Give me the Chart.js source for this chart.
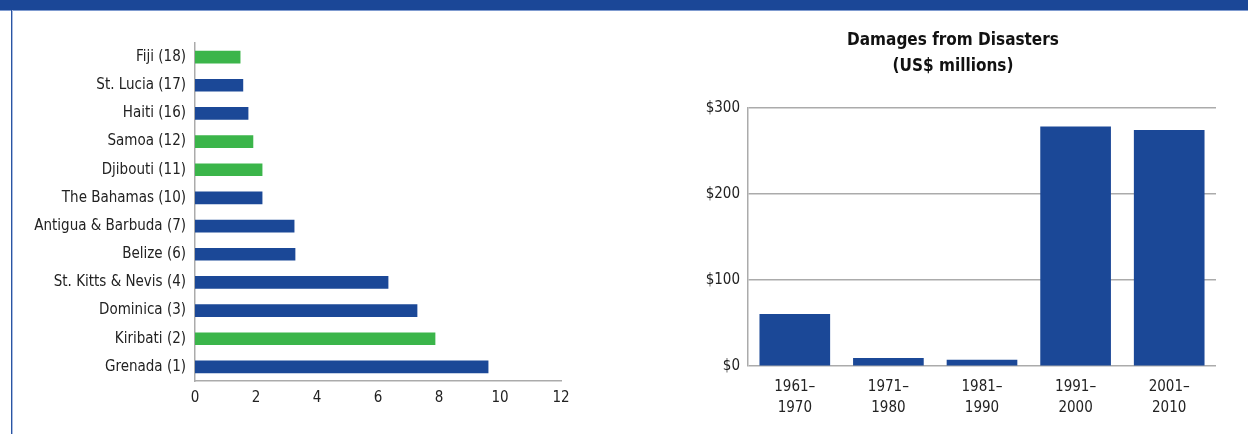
<!DOCTYPE html>
<html>
<head>
<meta charset="utf-8">
<script src="https://cdn.jsdelivr.net/npm/chart.js@4/dist/chart.umd.min.js"></script>
<style>
  html, body { margin: 0; padding: 0; background: #fff; }
  body { width: 1248px; height: 434px; position: relative; overflow: hidden; }
  #band { position: absolute; left: 0; top: 0; width: 1248px; height: 10px; background: #1b4797; border-bottom: 1px solid #7f9bd0; }
  #leftline { position: absolute; left: 11px; top: 10px; width: 1px; height: 424px; background: #2a55a2; border-right: 1px solid #a9bbe0; }
  #c1 { position: absolute; left: 0; top: 0; }
  #c2 { position: absolute; left: 690px; top: 0; }
</style>
</head>
<body>
<div id="band"></div>
<div id="leftline"></div>
<canvas id="c1" width="620" height="434"></canvas>
<canvas id="c2" width="558" height="434"></canvas>
<script>
// ---- Data: left chart ----
const countries = ['Fiji (18)', 'St. Lucia (17)', 'Haiti (16)', 'Samoa (12)', 'Djibouti (11)', 'The Bahamas (10)', 'Antigua & Barbuda (7)', 'Belize (6)', 'St. Kitts & Nevis (4)', 'Dominica (3)', 'Kiribati (2)', 'Grenada (1)'];
const countryValues = [1.48, 1.57, 1.74, 1.9, 2.2, 2.2, 3.25, 3.28, 6.33, 7.28, 7.87, 9.61];
const countryGroup = ['other', 'caribbean', 'caribbean', 'other', 'other', 'caribbean', 'caribbean', 'caribbean', 'caribbean', 'caribbean', 'other', 'caribbean'];
const xTicks = [0, 2, 4, 6, 8, 10, 12];

// ---- Data: right chart ----
const periods = [['1961–', '1970'], ['1971–', '1980'], ['1981–', '1990'], ['1991–', '2000'], ['2001–', '2010']];
const damages = [60, 9, 7, 278, 274];
const damageTicks = [0, 100, 200, 300];
const rightTitle = ['Damages from Disasters', '(US$ millions)'];

const BLUE = '#1b4897';
const GREEN = '#3bb54a';
const AXIS = '#ababab';
const FONT = "'Liberation Sans Narrow', 'Arial Narrow', 'DejaVu Sans Condensed', 'Roboto', sans-serif";
const groupColor = { caribbean: BLUE, other: GREEN };

Chart.defaults.font.family = FONT;
Chart.defaults.color = '#222';
Chart.defaults.animation = false;

new Chart(document.getElementById('c1'), {
  type: 'bar',
  data: {
    labels: countries,
    datasets: [{
      data: countryValues,
      backgroundColor: countryGroup.map(g => groupColor[g]),
      barThickness: 12,
      borderWidth: 0
    }]
  },
  options: {
    indexAxis: 'y',
    responsive: false,
    layout: { padding: { top: 43, right: 59, bottom: 0, left: 0 } },
    plugins: { legend: { display: false }, tooltip: { enabled: false } },
    scales: {
      x: {
        min: 0, max: 12,
        afterBuildTicks: s => { s.ticks = xTicks.map(v => ({ value: v })); },
        afterFit: s => { s.height = 53; },
        grid: { display: false, drawTicks: false },
        border: { display: true, color: AXIS, width: 1.5 },
        ticks: { padding: 8, font: { size: 15 }, color: '#222' }
      },
      y: {
        afterFit: s => { s.width = 195; },
        grid: { display: false, drawTicks: false },
        border: { display: true, color: AXIS, width: 1.5 },
        ticks: { padding: 9, font: { size: 15 }, color: '#222' }
      }
    }
  }
});

new Chart(document.getElementById('c2'), {
  type: 'bar',
  data: {
    labels: periods,
    datasets: [{
      data: damages,
      backgroundColor: BLUE,
      barThickness: 70,
      borderWidth: 0
    }]
  },
  options: {
    responsive: false,
    layout: { padding: { top: 0, right: 32, bottom: 0, left: 0 } },
    plugins: {
      legend: { display: false },
      tooltip: { enabled: false },
      title: {
        display: true,
        text: rightTitle,
        color: '#111',
        font: { size: 17, weight: 'bold', lineHeight: 1.53 },
        padding: { top: 28, bottom: 28 }
      }
    },
    scales: {
      x: {
        afterFit: s => { s.height = 68; },
        grid: { display: false, drawTicks: false },
        border: { display: false },
        ticks: { padding: 11, font: { size: 15, lineHeight: 1.4 }, color: '#222', maxRotation: 0 }
      },
      y: {
        min: 0, max: 300,
        afterBuildTicks: s => { s.ticks = damageTicks.map(v => ({ value: v })); },
        afterFit: s => { s.width = 58; },
        grid: { display: true, drawTicks: false, color: AXIS, lineWidth: 1.5 },
        border: { display: true, color: AXIS, width: 1.5 },
        ticks: { padding: 8, font: { size: 15 }, color: '#222', callback: v => '$' + v }
      }
    }
  }
});
</script>
</body>
</html>
